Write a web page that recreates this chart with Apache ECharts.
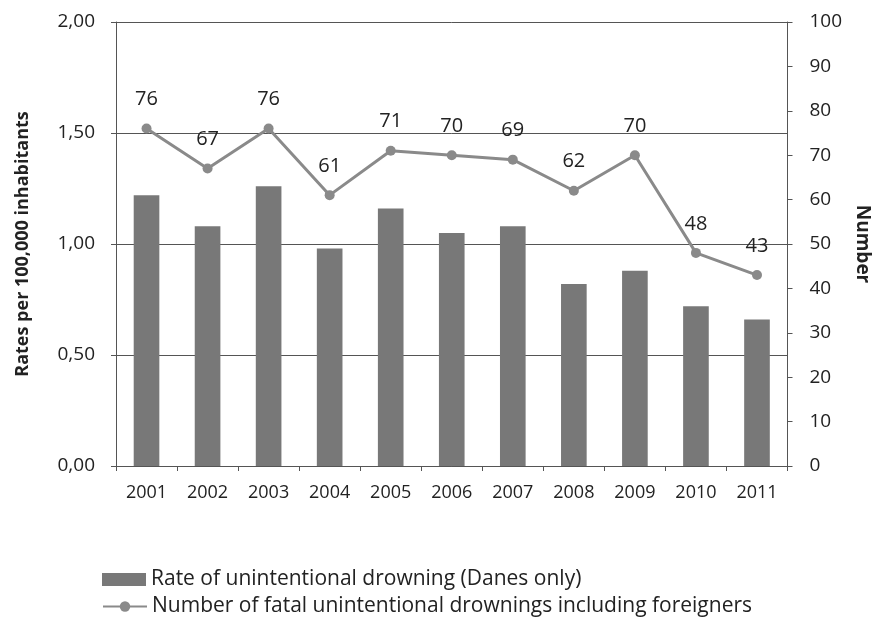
<!DOCTYPE html>
<html><head><meta charset="utf-8">
<script src="https://cdn.jsdelivr.net/npm/echarts@6/dist/echarts.min.js"></script>
<style>html,body{margin:0;padding:0;background:#fff}#c{width:880px;height:621px}</style>
</head><body><div id="c"></div>
<script>
const years = ['2001','2002','2003','2004','2005','2006','2007','2008','2009','2010','2011'];
const rates = [1.22, 1.08, 1.26, 0.98, 1.16, 1.05, 1.08, 0.82, 0.88, 0.72, 0.66];
const counts = [76, 67, 76, 61, 71, 70, 69, 62, 70, 48, 43];
const barName = 'Rate of unintentional drowning (Danes only)';
const lineName = 'Number of fatal unintentional drownings including foreigners';
const FONT = "'Open Sans', 'Liberation Sans', sans-serif";
const legendText = {fontFamily: FONT, fontSize: 21, color: '#222'};
const chart = echarts.init(document.getElementById('c'));
chart.setOption({
  animation: false,
  textStyle: {fontFamily: FONT},
  grid: {left: 116, right: 90, top: 22, bottom: 155},
  legend: [{
    left: 97, top: 564, itemWidth: 44, itemHeight: 13, itemGap: 4,
    textStyle: legendText,
    data: [{name: barName, icon: 'rect'}]
  }, {
    left: 97, top: 591, itemWidth: 44, itemHeight: 13, itemGap: 4,
    textStyle: legendText,
    data: [{name: lineName}]
  }],
  xAxis: {
    type: 'category', data: years,
    axisLine: {lineStyle: {color: '#555'}},
    axisTick: {show: true, alignWithLabel: false, length: 5, lineStyle: {color: '#555'}},
    axisLabel: {fontFamily: FONT, fontSize: 18, color: '#222', margin: 18}
  },
  yAxis: [{
    type: 'value', min: 0, max: 2, interval: 0.5, position: 'left',
    name: 'Rates per 100,000 inhabitants', nameLocation: 'middle', nameGap: 84, nameRotate: 90,
    nameTextStyle: {fontFamily: FONT, fontSize: 18, fontWeight: 'bold', color: '#222'},
    axisLine: {show: true, lineStyle: {color: '#555'}},
    axisTick: {show: true, length: 5, lineStyle: {color: '#555'}},
    axisLabel: {fontFamily: FONT, fontSize: 19, color: '#222', margin: 21,
      formatter: v => v.toFixed(2).replace('.', ',')},
    splitLine: {show: true, lineStyle: {color: '#555', width: 1}}
  }, {
    type: 'value', min: 0, max: 100, interval: 10, position: 'right',
    name: 'Number', nameLocation: 'middle', nameGap: 46, nameRotate: -90,
    nameTextStyle: {fontFamily: FONT, fontSize: 19, fontWeight: 'bold', color: '#222'},
    axisLine: {show: true, lineStyle: {color: '#555'}},
    axisTick: {show: true, length: 5, lineStyle: {color: '#555'}},
    axisLabel: {fontFamily: FONT, fontSize: 19, color: '#222', margin: 22},
    splitLine: {show: false}
  }],
  series: [{
    name: barName, type: 'bar', data: rates, yAxisIndex: 0,
    barWidth: '42%', itemStyle: {color: '#787878'}
  }, {
    name: lineName, type: 'line', data: counts, yAxisIndex: 1,
    symbol: 'circle', symbolSize: 10,
    lineStyle: {color: '#8a8a8a', width: 3},
    itemStyle: {color: '#8a8a8a'},
    label: {show: true, position: 'top', distance: 14, fontFamily: FONT, fontSize: 20, color: '#222'}
  }]
});
</script></body></html>
